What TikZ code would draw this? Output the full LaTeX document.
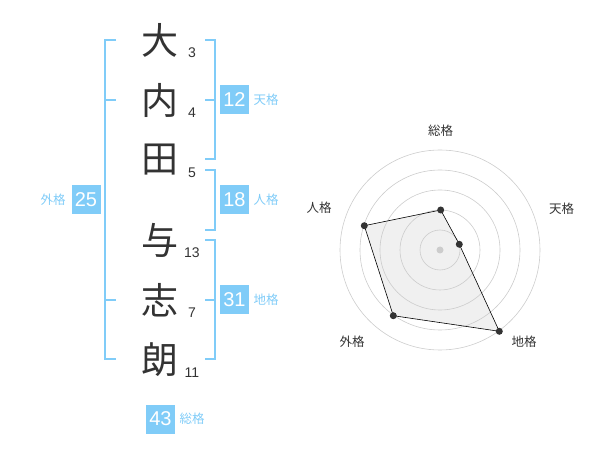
\documentclass[tikz,border=0pt]{standalone}
\usepackage{fontspec}
\setmainfont{Liberation Sans}
\newfontfamily\jp{Noto Sans CJK JP}
\usepackage{tikz}
\definecolor{kakublue}{RGB}{128,204,248}
\definecolor{inkgray}{RGB}{51,51,51}
\definecolor{ringgray}{RGB}{204,204,204}
\definecolor{areagray}{RGB}{240,240,240}

\begin{document}
\begin{tikzpicture}[x=1pt, y=-1pt,
    kanji/.style={text=inkgray, inner sep=0pt, font=\jp\fontsize{37}{37}\selectfont},
    strokes/.style={text=inkgray, inner sep=0pt, font=\fontsize{14}{14}\selectfont},
    kakubox/.style={fill=kakublue, text=white, inner sep=0pt, minimum size=29pt, font=\fontsize{20}{20}\selectfont},
    kakuname/.style={text=kakublue, inner sep=0pt, font=\jp\fontsize{12.5}{12.5}\selectfont},
    axisname/.style={text=inkgray, inner sep=0pt, font=\jp\fontsize{12.5}{12.5}\selectfont},
    vertex/.style={circle, fill=inkgray, inner sep=0pt, minimum size=7pt},
    bracket/.style={draw=kakublue, line width=1.6pt},
    ring/.style={draw=ringgray, line width=0.6pt}]
\useasboundingbox (0,0) rectangle (600,470);

% name and stroke counts
\draw (160,40) node (Dai) [kanji] {大};
\draw (160,100) node (Uchi) [kanji] {内};
\draw (160,160) node (Ta) [kanji] {田};
\draw (160,240) node (Yo) [kanji] {与};
\draw (160,300) node (Shi) [kanji] {志};
\draw (160,360) node (Rou) [kanji] {朗};

\draw (192,53) node (DaiN) [strokes] {3};
\draw (192,113) node (UchiN) [strokes] {4};
\draw (192,173) node (TaN) [strokes] {5};
\draw (192,252.5) node (YoN) [strokes] {13};
\draw (192,313) node (ShiN) [strokes] {7};
\draw (192,372.5) node (RouN) [strokes] {11};

% brackets
\draw[bracket] (116,40) -- (105,40) -- (105,359) -- (116,359);
\draw[bracket] (105,100) -- (116,100);
\draw[bracket] (105,300) -- (116,300);

\draw[bracket] (205,40) -- (215,40) -- (215,159) -- (205,159);
\draw[bracket] (205,100) -- (215,100);
\draw[bracket] (205,170) -- (215,170) -- (215,230) -- (205,230);
\draw[bracket] (205,240) -- (215,240) -- (215,359) -- (205,359);
\draw[bracket] (205,300) -- (215,300);

% totals
\draw (234.5,100) node (Ten) [kakubox] {12};
\draw (266,100) node (TenL) [kakuname] {天格};
\draw (234.5,200) node (Jin) [kakubox] {18};
\draw (266,200) node (JinL) [kakuname] {人格};
\draw (234.5,300) node (Chi) [kakubox] {31};
\draw (266,300) node (ChiL) [kakuname] {地格};
\draw (86,200) node (Gai) [kakubox] {25};
\draw (53,200) node (GaiL) [kakuname] {外格};
\draw (160.5,419) node (Sou) [kakubox] {43};
\draw (192,419) node (SouL) [kakuname] {総格};

% radar
\coordinate (pSou) at (440.7,210);
\coordinate (pTen) at (459.3,244.3);
\coordinate (pChi) at (499.3,331.3);
\coordinate (pGai) at (393.3,315.7);
\coordinate (pJin) at (364.3,225.7);
\fill[areagray] (pSou) -- (pTen) -- (pChi) -- (pGai) -- (pJin) -- cycle;

\draw[ring] (440,250) circle (20);
\draw[ring] (440,250) circle (40);
\draw[ring] (440,250) circle (60);
\draw[ring] (440,250) circle (80);
\draw[ring] (440,250) circle (100);
\fill[ringgray] (440,250) circle (3.5);

\draw[black, line width=0.6pt] (pSou) -- (pTen) -- (pChi) -- (pGai) -- (pJin) -- cycle;
\node[vertex] at (pSou) {};
\node[vertex] at (pTen) {};
\node[vertex] at (pChi) {};
\node[vertex] at (pGai) {};
\node[vertex] at (pJin) {};

\draw (440.5,130.5) node (aSou) [axisname] {総格};
\draw (561.7,208.5) node (aTen) [axisname] {天格};
\draw (524,341.7) node (aChi) [axisname] {地格};
\draw (352,341.7) node (aGai) [axisname] {外格};
\draw (319,208) node (aJin) [axisname] {人格};

\end{tikzpicture}
\end{document}
